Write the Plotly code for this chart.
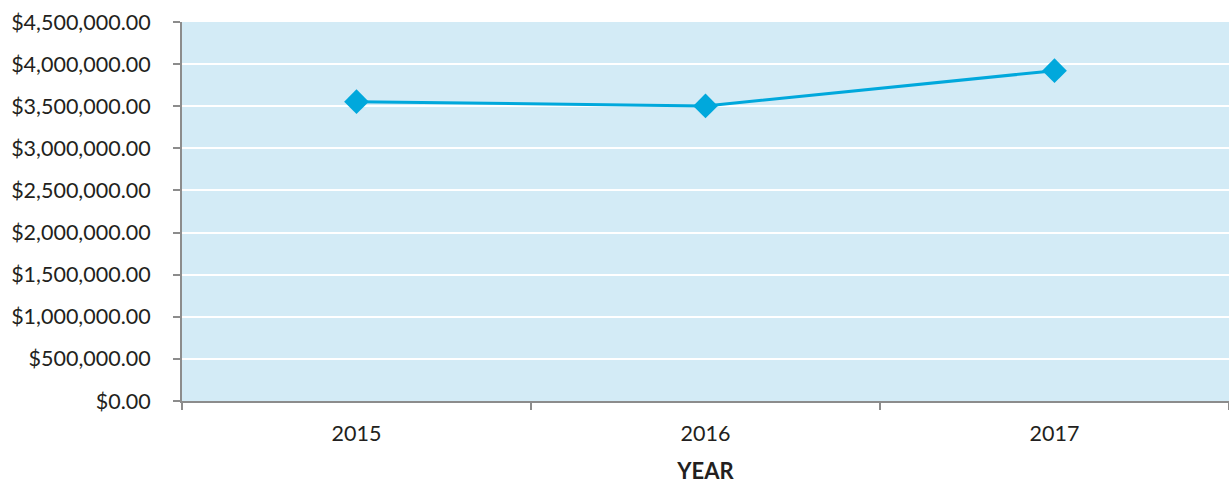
import plotly.graph_objects as go

years = ["2015", "2016", "2017"]
values = [3554000, 3503000, 3922000]
y_ticks = [0, 500000, 1000000, 1500000, 2000000, 2500000, 3000000, 3500000, 4000000, 4500000]
y_tick_labels = ["$" + f"{v:,.2f}" for v in y_ticks]

fig = go.Figure(go.Scatter(
    x=years, y=values, mode="lines+markers",
    line=dict(color="#00A8DC", width=3),
    marker=dict(symbol="diamond", size=19, color="#00A8DC"),
))

fig.update_layout(
    width=1229, height=484,
    margin=dict(l=182, r=0, t=22, b=83),
    plot_bgcolor="#D3EBF6", paper_bgcolor="white",
    font=dict(family="Lato", size=21.5, color="#231F20"),
    showlegend=False,
    xaxis=dict(
        type="category", tickson="boundaries", ticks="outside", ticklen=7,
        range=[-0.5, 2.5],
        tickcolor="#8C8C8C", tickwidth=1.5, showline=True, linecolor="#8C8C8C", linewidth=2,
        showgrid=False, ticklabelstandoff=12,
        title=dict(text="<b>YEAR</b>", font=dict(size=22), standoff=20),
    ),
    yaxis=dict(
        range=[0, 4500000], tickvals=y_ticks, ticktext=y_tick_labels,
        ticks="outside", ticklen=7, tickcolor="#8C8C8C", tickwidth=1.5,
        showline=True, linecolor="#8C8C8C", linewidth=2,
        showgrid=True, gridcolor="white", gridwidth=2, zeroline=False,
        ticklabelstandoff=18,
    ),
)

fig.write_html("out.html")
